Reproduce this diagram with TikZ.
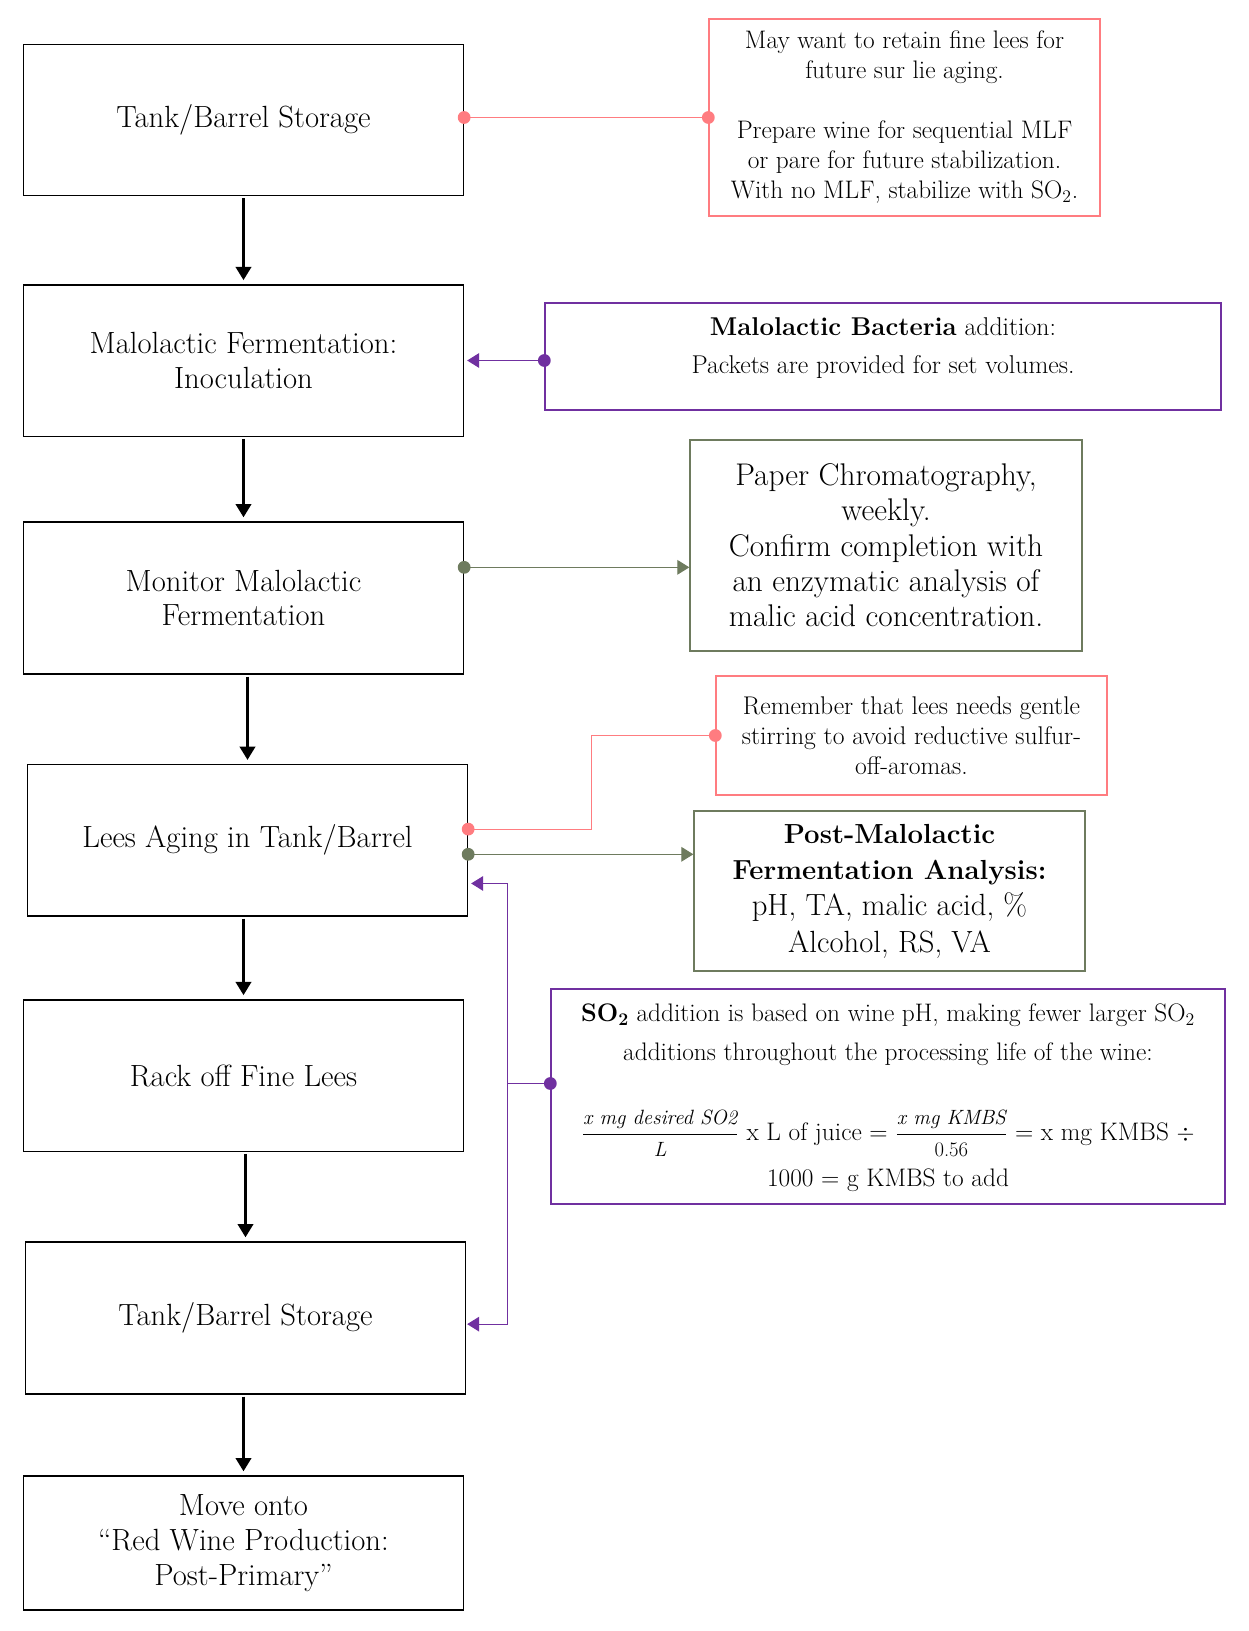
\documentclass[tikz,border=0pt]{standalone}
\usetikzlibrary{arrows.meta,calc}
\definecolor{pinkc}{HTML}{FF7C80}
\definecolor{purp}{HTML}{7030A0}
\definecolor{olivec}{HTML}{6E7B5E}
\newcommand{\myfrac}[2]{$\displaystyle\frac{\hbox{\fontsize{15.5}{17}\selectfont\itshape #1}}{\hbox{\fontsize{15.5}{17}\selectfont #2}}$}
\begin{document}
\begin{tikzpicture}[x=0.75pt,y=-0.75pt,
  box/.style={draw, line width=1pt, inner sep=0pt, align=center},
  mainbox/.style={box, minimum width=330pt, minimum height=113.5pt, font=\fontsize{23}{26}\selectfont},
  flow/.style={line width=2.25pt, -{Triangle[length=10pt,width=11.5pt]}, shorten >=3pt, shorten <=1.5pt},
  conn/.style={line width=0.8pt},
  ctip/.style={-{Triangle[length=9pt,width=11pt]}},
  dotr/.style={radius=4.8pt}
]
\useasboundingbox (0,0) rectangle (1249,1631);

% main column
\node[mainbox] (tb1) at (243.5,120) {\raisebox{-2.5pt}{Tank/Barrel Storage}};
\node[mainbox] (mf) at (243.5,360.5) {Malolactic Fermentation:\\ Inoculation};
\node[mainbox, minimum height=114pt] (mon) at (243.5,598) {Monitor Malolactic\\ Fermentation};
\node[mainbox] (lees) at (247.5,840.25) {\raisebox{-2.5pt}{Lees Aging in Tank/Barrel}};
\node[mainbox] (rack) at (243.5,1075.5) {Rack off Fine Lees};
\node[mainbox, minimum height=114pt] (tb2) at (245.5,1318) {\raisebox{-2.5pt}{Tank/Barrel Storage}};
\node[mainbox, minimum height=100.5pt] (move) at (243.5,1543) {Move onto\\ ``Red Wine Production:\\ Post-Primary''};

\draw[flow] (mf.north |- tb1.south) -- (mf.north);
\draw[flow] (mon.north |- mf.south) -- (mon.north);
\draw[flow] (lees.north |- mon.south) -- (lees.north);
\draw[flow] (rack.north |- lees.south) -- (rack.north);
\draw[flow] (tb2.north |- rack.south) -- (tb2.north);
\draw[flow] (move.north |- tb2.south) -- (move.north);

% side boxes
\node[box, draw=pinkc, minimum width=293.25pt, minimum height=147.75pt, font=\fontsize{19}{22.5}\selectfont] (na) at (904.5,117.5)
  {May want to retain fine lees for\\ future sur lie aging.\\[22.5pt]
   Prepare wine for sequential MLF\\ or pare for future stabilization.\\
   With no MLF, stabilize with SO\textsubscript{2}.};
\node[box, draw=purp, minimum width=507pt, minimum height=80.25pt] (nb) at (883,356.5) {};
\node[align=center, font=\fontsize{19.3}{28.5}\selectfont] (nbt) at ($(nb.center)+(0,-8)$)
  {\textbf{Malolactic Bacteria} addition:\\ Packets are provided for set volumes.};
\node[box, draw=olivec, minimum width=294pt, minimum height=158.25pt, font=\fontsize{23.5}{26.5}\selectfont] (nc) at (886,545.5)
  {Paper Chromatography,\\ weekly.\\ Confirm completion with\\ an enzymatic analysis of\\ malic acid concentration.};
\node[box, draw=pinkc, minimum width=293.25pt, minimum height=89.25pt, font=\fontsize{19.2}{22.6}\selectfont] (nd) at (911.5,735.5)
  {Remember that lees needs gentle\\ stirring to avoid reductive sulfur-\\ off-aromas.};
\node[box, draw=olivec, minimum width=293.25pt, minimum height=120pt, font=\fontsize{23}{27.3}\selectfont] (ne) at (889.5,891)
  {{\fontsize{20.7}{27.3}\selectfont\bfseries Post-Malolactic}\\ {\fontsize{20.7}{27.3}\selectfont\bfseries Fermentation Analysis:}\\ pH, TA, malic acid, \%\\ Alcohol, RS, VA};
\node[draw=purp, line width=1pt, minimum width=505.5pt, minimum height=161.25pt] (nf) at (888,1096.5) {};
\node[align=center, font=\fontsize{19}{29}\selectfont] (nft) at (888,1098)
  {\textbf{SO\textsubscript{2}} addition is based on wine pH, making fewer larger SO\textsubscript{2}\\
   additions throughout the processing life of the wine:\\[31pt]
   \myfrac{x mg desired SO2}{\itshape L} x L of juice = \myfrac{x mg KMBS}{0.56} = x mg KMBS $\div$\\[6pt]
   1000 = g KMBS to add};

% connectors
\coordinate (a1) at (na.west -| tb1.east);
\draw[pinkc, conn] (a1) -- (na.west);
\fill[pinkc] (a1) circle[dotr] (na.west) circle[dotr];

\coordinate (b1) at (nb.west |- mf.east);
\draw[purp, conn, ctip] (b1) -- ($(mf.east)+(3,0)$);
\fill[purp] (b1) circle[dotr];

\coordinate (c1) at ($(mon.north east)!0.3!(mon.south east)$);
\draw[olivec, conn, ctip] (c1) -- (c1 -| nc.west);
\fill[olivec] (c1) circle[dotr];

\coordinate (d1) at ($(lees.north east)!0.427!(lees.south east)$);
\draw[pinkc, conn] (d1) -| ($(d1)!0.5!(nd.west)$) |- (nd.west);
\fill[pinkc] (d1) circle[dotr] (nd.west) circle[dotr];

\coordinate (e1) at ($(lees.north east)!0.592!(lees.south east)$);
\draw[olivec, conn, ctip] (e1) -- (e1 -| ne.west);
\fill[olivec] (e1) circle[dotr];

\coordinate (f1) at ($(nf.west)+(0,-13)$);
\coordinate (fj) at ($(f1)+(-42.5,0)$);
\draw[purp, conn, ctip] (f1) -- (fj) |- ($(lees.north east)!0.783!(lees.south east)+(3,0)$);
\draw[purp, conn, ctip] (fj) |- ($(tb2.north east)!0.54!(tb2.south east)+(1,0)$);
\fill[purp] (f1) circle[dotr];
\end{tikzpicture}
\end{document}
